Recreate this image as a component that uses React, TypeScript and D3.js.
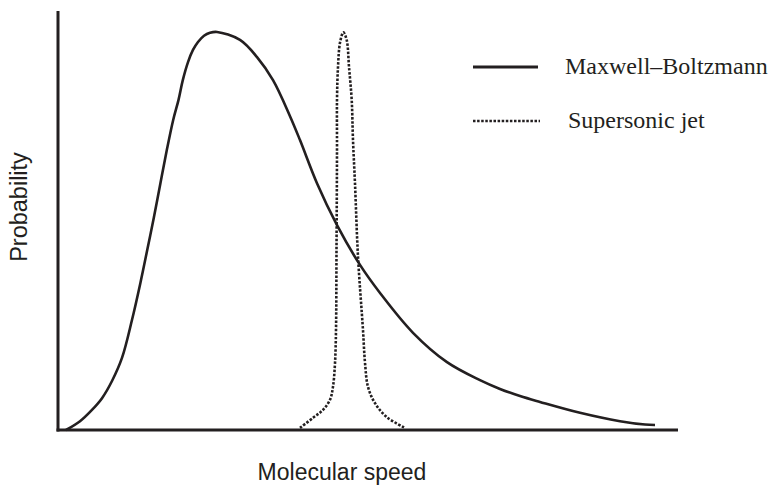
import React from "react";
import * as d3 from "d3";

// Maxwell–Boltzmann distribution (speed in arbitrary units, probability normalised)
const mbSpeed = [0.129, 0.355, 0.548, 0.71, 0.871, 1.032, 1.194, 1.329, 1.44, 1.547, 1.652, 1.755, 1.858, 1.944, 2.013, 2.097, 2.177, 2.258, 2.355, 2.452, 2.565, 2.935, 3.21, 3.468, 3.742, 3.903, 4.177, 4.5, 4.871, 5.194, 5.726, 6.274, 6.806, 7.129, 7.452, 7.774, 8.419, 9.065, 9.468, 9.629];
const mbProb = [0, 0.021, 0.048, 0.076, 0.117, 0.172, 0.263, 0.351, 0.43, 0.508, 0.589, 0.668, 0.74, 0.788, 0.835, 0.878, 0.907, 0.926, 0.941, 0.948, 0.95, 0.931, 0.89, 0.835, 0.749, 0.692, 0.589, 0.489, 0.394, 0.327, 0.232, 0.162, 0.119, 0.098, 0.081, 0.067, 0.041, 0.021, 0.013, 0.012];

// Supersonic jet distribution
const jetSpeed = [3.903, 4.113, 4.274, 4.387, 4.435, 4.468, 4.484, 4.492, 4.5, 4.5, 4.516, 4.548, 4.602, 4.656, 4.694, 4.737, 4.758, 4.79, 4.839, 4.919, 4.952, 5.0, 5.113, 5.302, 5.597];
const jetProb = [0.005, 0.029, 0.048, 0.072, 0.103, 0.16, 0.239, 0.43, 0.668, 0.788, 0.866, 0.924, 0.949, 0.931, 0.866, 0.788, 0.692, 0.589, 0.413, 0.239, 0.16, 0.103, 0.064, 0.031, 0.005];

const seriesNames = ["Maxwell–Boltzmann", "Supersonic jet"];
const xLabel = "Molecular speed";
const yLabel = "Probability";

const W = 769;
const H = 486;
const INK = "#231f20";

export default function App() {
  const x = d3.scaleLinear().domain([0, 10]).range([58, 678]);
  const y = d3.scaleLinear().domain([0, 1]).range([430, 11]);

  const line = d3
    .line<[number, number]>()
    .x((d) => x(d[0]))
    .y((d) => y(d[1]))
    .curve(d3.curveCatmullRom.alpha(0.5));

  const mb = mbSpeed.map((s, i) => [s, mbProb[i]] as [number, number]);
  const jet = jetSpeed.map((s, i) => [s, jetProb[i]] as [number, number]);

  return (
    <svg
      width={W}
      height={H}
      style={{ position: "absolute", left: 0, top: 0, background: "#fff" }}
    >
      <path d={line(mb) || ""} fill="none" stroke={INK} strokeWidth={2.6} strokeLinejoin="round" />
      <path d={line(jet) || ""} fill="none" stroke={INK} strokeWidth={2.6} strokeDasharray="2.5 1.6" />

      {/* axes */}
      <line x1={x(0)} x2={x(0)} y1={y(1)} y2={y(0) + 1.5} stroke={INK} strokeWidth={3} />
      <line x1={x(0) - 1.5} x2={x(10)} y1={y(0)} y2={y(0)} stroke={INK} strokeWidth={3} />

      {/* legend */}
      <line x1={473} x2={538} y1={67} y2={67} stroke={INK} strokeWidth={2.8} />
      <text x={565} y={74} fontFamily="'Liberation Serif', 'Times New Roman', serif" fontSize={24} fill={INK}>
        {seriesNames[0]}
      </text>
      <line x1={473} x2={540} y1={121} y2={121} stroke={INK} strokeWidth={2.6} strokeDasharray="2.5 1.6" />
      <text x={568} y={128} fontFamily="'Liberation Serif', 'Times New Roman', serif" fontSize={24} fill={INK}>
        {seriesNames[1]}
      </text>

      {/* axis titles */}
      <text
        x={342}
        y={480}
        textAnchor="middle"
        fontFamily="'Liberation Sans', Arial, sans-serif"
        fontSize={23}
        fill={INK}
      >
        {xLabel}
      </text>
      <text
        transform={`translate(27,207) rotate(-90)`}
        textAnchor="middle"
        fontFamily="'Liberation Sans', Arial, sans-serif"
        fontSize={23.5}
        fill={INK}
      >
        {yLabel}
      </text>
    </svg>
  );
}
